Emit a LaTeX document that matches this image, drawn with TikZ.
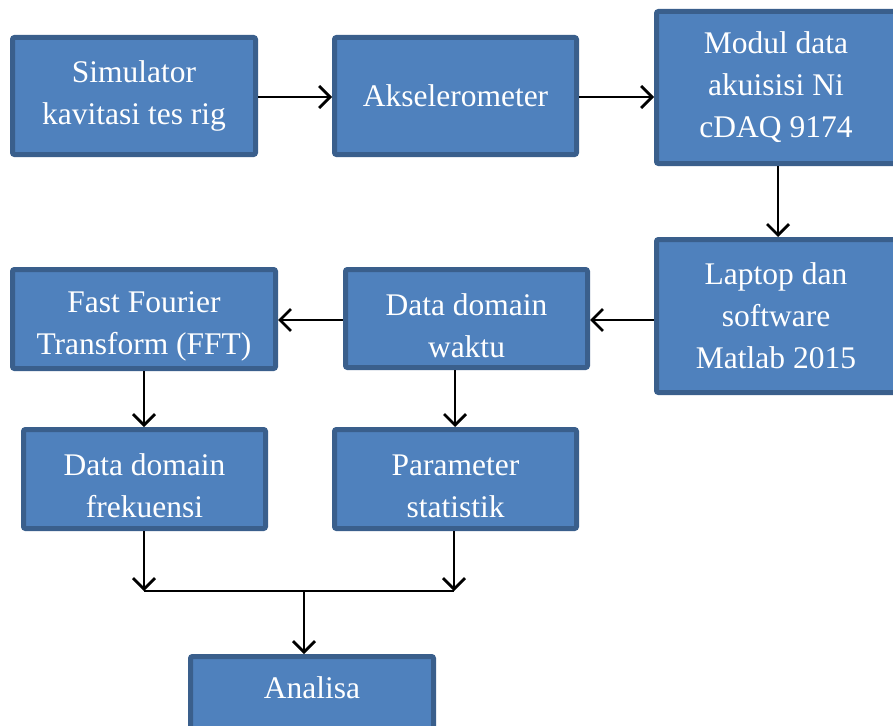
\documentclass[tikz,border=0pt]{standalone}
\usepackage{fontspec}
\setmainfont{Liberation Serif}
\usetikzlibrary{arrows.meta}
\definecolor{boxfill}{HTML}{4F81BD}
\definecolor{boxline}{HTML}{3A5F8C}
\newcommand\mytallstrut{\rule{0pt}{36pt}}
\begin{document}
\begin{tikzpicture}[x=1pt,y=-1pt,
  blok/.style={draw=boxline, fill=boxfill, line width=5pt, rounded corners=2pt,
    text=white, align=center, inner sep=0pt,
    font=\fontsize{31.5}{42}\selectfont},
  arr/.style={line width=2.8pt, -{Straight Barb[length=11pt,width=22pt]}},
  ln/.style={line width=2.8pt}]
\clip (0,0) rectangle (893,725);
\fill[white] (0,0) rectangle (893,725);
\node[blok, minimum width=243pt, minimum height=117pt] (sim) at (134,96) {Simulator\\kavitasi tes rig};
\node[blok, minimum width=242pt, minimum height=117pt] (aks) at (455.5,96) {Akselerometer};
\node[blok, minimum width=239pt, minimum height=152pt] (mod) at (776,87.5) {Modul data\\akuisisi Ni\\cDAQ 9174};
\node[blok, minimum width=239pt, minimum height=153pt] (lap) at (776,316) {Laptop dan\\software\\Matlab 2015};
\node[blok, minimum width=242pt, minimum height=98pt] (wak) at (466.5,318.5) {\mytallstrut Data domain\\waktu};
\node[blok, minimum width=263pt, minimum height=99pt] (fft) at (144,319) {\mytallstrut Fast Fourier\\Transform (FFT)};
\node[blok, minimum width=242pt, minimum height=99pt] (frek) at (144.5,479) {\mytallstrut Data domain\\frekuensi};
\node[blok, minimum width=242pt, minimum height=99pt] (par) at (455.5,479) {\mytallstrut Parameter\\statistik};
\node[blok, minimum width=243pt, minimum height=99pt] (ana) at (312,706) {};
\node[text=white, font=\fontsize{31.5}{42}\selectfont] (analbl) at (312,688) {Analisa};
\coordinate (j1) at (144,591);
\coordinate (j2) at (454,591);
\coordinate (j3) at (304,591);
\draw[arr] (sim.east |- 0,97) -- (aks.west |- 0,97);
\draw[arr] (aks.east |- 0,97) -- (mod.west |- 0,97);
\draw[arr] (mod.south -| 778,0) -- (lap.north -| 778,0);
\draw[arr] (lap.west |- 0,320) -- (wak.east |- 0,320);
\draw[arr] (wak.west |- 0,320) -- (fft.east |- 0,320);
\draw[arr] (fft.south) -- (frek.north -| fft.south);
\draw[arr] (wak.south -| 455,0) -- (par.north -| 455,0);
\draw[arr] (frek.south -| j1) -- (j1);
\draw[arr] (par.south -| j2) -- (j2);
\draw[ln] (j1) -- (j2);
\draw[arr] (j3) -- (ana.north -| j3);
\end{tikzpicture}
\end{document}
